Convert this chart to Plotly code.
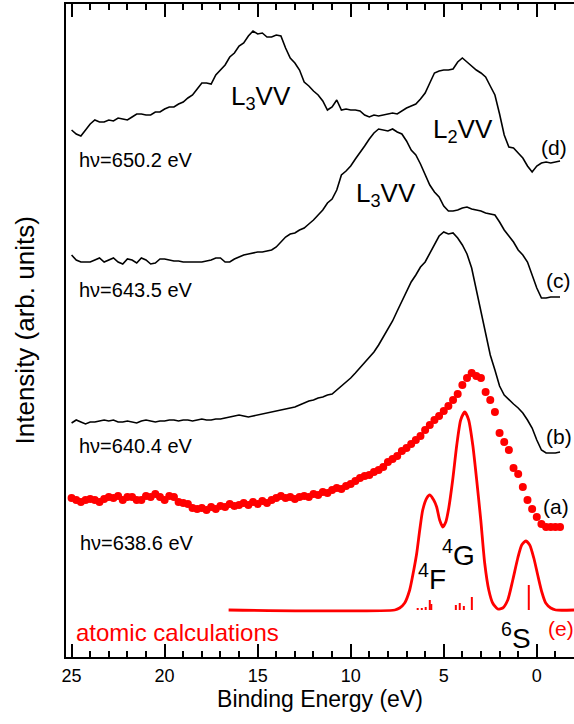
import plotly.graph_objects as go

# ---------------- data ----------------
binding_energy = [
    25.00, 24.75, 24.50, 24.25, 24.00, 23.75, 23.50, 23.25, 23.00, 22.75,
    22.50, 22.25, 22.00, 21.75, 21.50, 21.25, 21.00, 20.75, 20.50, 20.25,
    20.00, 19.75, 19.50, 19.25, 19.00, 18.75, 18.50, 18.25, 18.00, 17.75,
    17.50, 17.25, 17.00, 16.75, 16.50, 16.25, 16.00, 15.75, 15.50, 15.25,
    15.00, 14.75, 14.50, 14.25, 14.00, 13.75, 13.50, 13.25, 13.00, 12.75,
    12.50, 12.25, 12.00, 11.75, 11.50, 11.25, 11.00, 10.75, 10.50, 10.25,
    10.00, 9.75, 9.50, 9.25, 9.00, 8.75, 8.50, 8.25, 8.00, 7.75,
    7.50, 7.25, 7.00, 6.75, 6.50, 6.25, 6.00, 5.75, 5.50, 5.25,
    5.00, 4.75, 4.50, 4.25, 4.00, 3.75, 3.50, 3.25, 3.00, 2.75,
    2.50, 2.25, 2.00, 1.75, 1.50, 1.25, 1.00, 0.75, 0.50, 0.25,
    0.00, -0.25, -0.50, -0.75, -1.00, -1.25,
]

# (d) hv = 650.2 eV
intensity_d = [
    527, 523, 521, 527, 533, 537, 535, 535, 537, 536,
    539, 538, 537, 540, 543, 543, 542, 542, 545, 545,
    548, 550, 550, 553, 555, 559, 562, 568, 574, 574,
    573, 582, 587, 592, 600, 604, 611, 614, 621, 626,
    623, 624, 620, 620, 622, 621, 609, 599, 594, 587,
    575, 571, 566, 562, 556, 547, 550, 557, 547, 548,
    547, 547, 546, 542, 540, 542, 541, 542, 543, 544,
    543, 546, 549, 551, 553, 558, 564, 574, 584, 586,
    587, 587, 588, 595, 599, 595, 591, 587, 584, 580,
    571, 562, 543, 522, 510, 509, 504, 499, 491, 485,
    491, 494, 495, 494, 495, 496,
]

# (c) hv = 643.5 eV
intensity_c = [
    402, 397, 395, 395, 395, 397, 399, 395, 397, 399,
    395, 393, 398, 397, 394, 399, 397, 393, 394, 398,
    398, 397, 396, 396, 395, 395, 395, 395, 395, 396,
    397, 399, 399, 395, 395, 398, 400, 402, 403, 404,
    405, 405, 406, 407, 410, 415, 420, 423, 424, 427,
    429, 433, 437, 442, 447, 454, 458, 467, 482, 486,
    491, 498, 504, 511, 518, 524, 528, 527, 526, 528,
    525, 523, 516, 507, 502, 493, 482, 472, 465, 460,
    451, 446, 446, 447, 449, 450, 448, 447, 446, 444,
    443, 442, 435, 427, 421, 415, 407, 402, 395, 382,
    369, 359, 359, 360, 360, 360,
]

# (b) hv = 640.4 eV
intensity_b = [
    234, 237, 235, 233, 235, 235, 236, 237, 236, 237,
    235, 235, 236, 235, 234, 236, 237, 236, 235, 236,
    236, 237, 237, 236, 237, 237, 236, 237, 238, 237,
    237, 238, 238, 239, 240, 241, 242, 241, 240, 241,
    242, 243, 244, 245, 246, 247, 248, 249, 250, 252,
    254, 256, 257, 259, 260, 262, 263, 267, 271, 275,
    279, 284, 289, 295, 299, 305, 312, 320, 327, 336,
    346, 356, 365, 375, 382, 390, 395, 404, 412, 421,
    425, 423, 424, 419, 412, 403, 389, 367, 347, 323,
    302, 287, 271, 262, 257, 253, 249, 244, 237, 229,
    217, 207, 204, 204, 204, 205,
]

# (a) hv = 638.6 eV (dots)
intensity_a = [
    159, 157, 155, 157, 158, 157, 155, 158, 160, 159,
    161, 157, 160, 160, 157, 157, 161, 160, 163, 160,
    157, 161, 160, 155, 154, 153, 149, 148, 149, 147,
    150, 148, 151, 150, 153, 151, 152, 154, 152, 155,
    153, 156, 154, 157, 159, 161, 159, 160, 158, 160,
    161, 160, 163, 162, 165, 164, 167, 169, 168, 171,
    173, 176, 179, 181, 182, 185, 187, 190, 195, 198,
    201, 206, 209, 213, 217, 221, 227, 232, 237, 241,
    246, 251, 257, 263, 272, 279, 284, 281, 279, 265,
    257, 245, 224, 215, 207, 189, 183, 170, 157, 148,
    140, 133, 130, 130, 130, 130,
]

# (e) atomic calculations: broadened spectrum
calc_energy = [
    16.56, 7.63, 7.37, 7.10, 6.83, 6.61, 6.45, 6.29, 6.13, 5.91,
    5.75, 5.54, 5.38, 5.22, 5.05, 4.89, 4.73, 4.52, 4.30, 4.09,
    3.87, 3.66, 3.44, 3.23, 3.01, 2.80, 2.58, 2.37, 2.10, 1.83,
    1.56, 1.29, 1.02, 0.81, 0.59, 0.38, 0.16, -0.05, -0.27, -0.48,
    -0.75, -1.02, -2.00,
]
calc_intensity = [
    47, 47, 49, 54, 67, 87, 104, 127, 147, 159,
    162, 157, 150, 137, 130, 135, 149, 177, 212, 237,
    245, 237, 212, 177, 137, 94, 67, 54, 48, 49,
    57, 77, 99, 112, 116, 112, 99, 82, 65, 54,
    49, 47, 47,
]

# (e) atomic calculations: multiplet lines (sticks)
stick_energy = [6.40, 6.18, 5.97, 5.75, 5.67, 4.35, 4.14, 3.92, 3.49, 0.43]
stick_height = [2, 2, 3, 10, 6, 5, 7, 4, 13, 25]
calc_baseline = 47

RED = "#ff0000"
FONT = "Arial, Liberation Sans, Helvetica, sans-serif"

fig = go.Figure()

for inten in (intensity_d, intensity_c, intensity_b):
    fig.add_trace(go.Scatter(
        x=binding_energy, y=inten, mode="lines",
        line=dict(color="black", width=1.6), showlegend=False,
        hoverinfo="skip"))

fig.add_trace(go.Scatter(
    x=binding_energy, y=intensity_a, mode="markers",
    marker=dict(color=RED, size=8, line=dict(width=0)),
    showlegend=False, hoverinfo="skip"))

fig.add_trace(go.Scatter(
    x=calc_energy, y=calc_intensity, mode="lines",
    line=dict(color=RED, width=2.8, shape="spline", smoothing=0.6),
    showlegend=False, hoverinfo="skip"))

sx, sy = [], []
for e, h in zip(stick_energy, stick_height):
    sx += [e, e, None]
    sy += [calc_baseline, calc_baseline + h, None]
fig.add_trace(go.Scatter(
    x=sx, y=sy, mode="lines", line=dict(color=RED, width=2),
    showlegend=False, hoverinfo="skip"))

def ann(text, x, y, size, color="black", xanchor="center", yanchor="middle"):
    fig.add_annotation(text=text, x=x, y=y, xref="x", yref="y",
                       showarrow=False, xanchor=xanchor, yanchor=yanchor,
                       font=dict(family=FONT, size=size, color=color))

ann("L<sub>3</sub>VV", 14.84, 560, 26)
ann("L<sub>2</sub>VV", 3.98, 527, 26)
ann("L<sub>3</sub>VV", 8.12, 463, 26)
ann("(d)", -0.91, 510, 21)
ann("(c)", -1.16, 377, 21)
ann("(b)", -1.18, 221, 21)
ann("(a)", -1.02, 151, 21)
ann("(e)", -1.30, 29, 21, color=RED)
ann("hν=650.2 eV", 24.70, 497, 20, xanchor="left")
ann("hν=643.5 eV", 24.73, 367, 20, xanchor="left")
ann("hν=640.4 eV", 24.73, 211, 20, xanchor="left")
ann("hν=638.6 eV", 24.68, 114, 20, xanchor="left")
ann("atomic calculations", 24.86, 25, 24, color=RED, xanchor="left")
ann("<sup>4</sup>F", 5.62, 80, 28)
ann("<sup>4</sup>G", 4.19, 104, 28)
ann("<sup>6</sup>S", 1.10, 21, 28)

fig.add_annotation(text="Intensity (arb. units)", xref="paper", yref="paper",
                   x=-0.0808, y=0.5, textangle=-90, showarrow=False,
                   xanchor="center", yanchor="middle",
                   font=dict(family=FONT, size=26, color="black"))

fig.update_xaxes(
    range=[25.3, -2.0], showgrid=False, zeroline=False,
    showline=True, linecolor="black", linewidth=1.5, mirror="allticks",
    ticks="inside", ticklen=13, tickwidth=1.5, tickcolor="black",
    tickvals=[25, 20, 15, 10, 5, 0], ticklabelstandoff=2,
    minor=dict(dtick=1, ticks="inside", ticklen=6, tickwidth=1.5, tickcolor="black", showgrid=False),
    tickfont=dict(family=FONT, size=18, color="black"),
    title=dict(text="Binding Energy (eV)", standoff=6,
               font=dict(family=FONT, size=23, color="black")),
)
fig.update_yaxes(
    range=[0, 653], showgrid=False, zeroline=False, showline=True,
    linecolor="black", linewidth=1.5, ticks="", showticklabels=False,
)
fig.update_layout(
    width=574, height=724, margin=dict(l=66, r=0, t=4, b=67),
    plot_bgcolor="white", paper_bgcolor="white", showlegend=False,
)

fig.write_html("out.html")
